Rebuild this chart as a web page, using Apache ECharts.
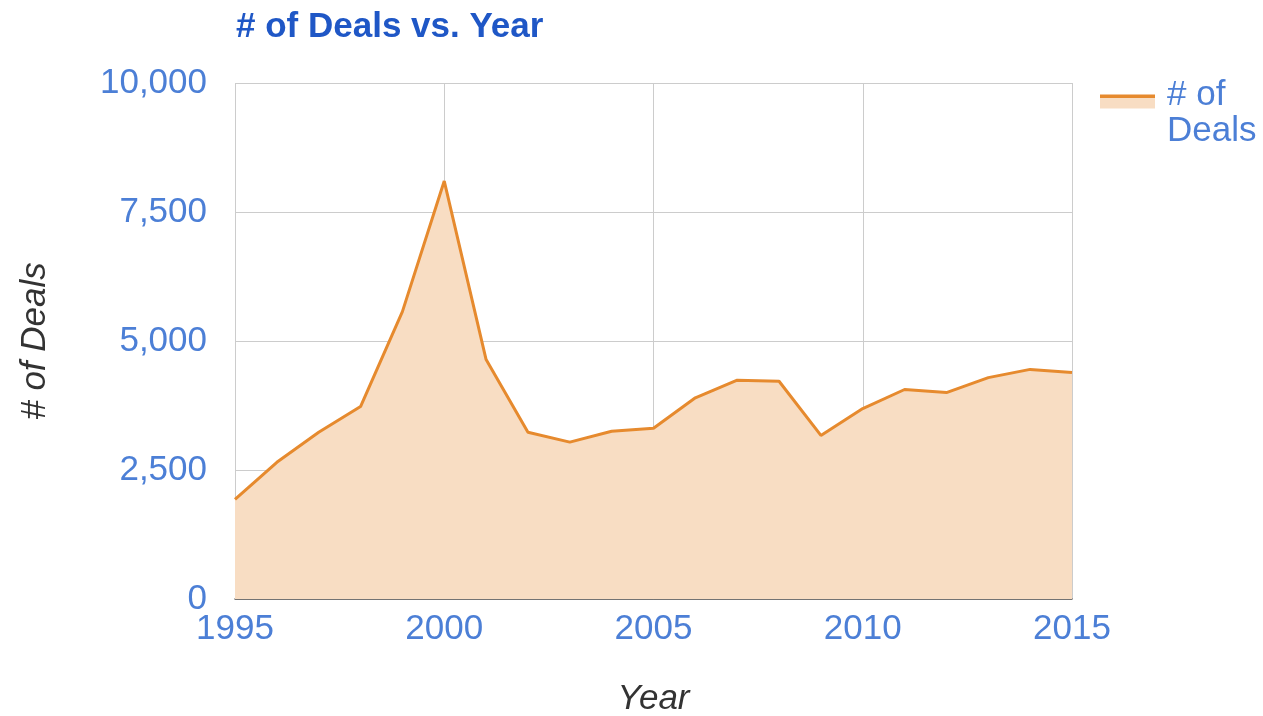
<!DOCTYPE html>
<html>
<head>
<meta charset="utf-8">
<title># of Deals vs. Year</title>
<script src="https://cdn.jsdelivr.net/npm/echarts@6/dist/echarts.min.js"></script>
<style>
  html, body { margin: 0; padding: 0; background: #ffffff; }
  #chart { width: 1263px; height: 716px; }
</style>
</head>
<body>
<div id="chart"></div>
<script>
// Number of deals per year
const years = [1995, 1996, 1997, 1998, 1999, 2000, 2001, 2002, 2003, 2004, 2005,
               2006, 2007, 2008, 2009, 2010, 2011, 2012, 2013, 2014, 2015];
const deals = [1930, 2650, 3230, 3730, 5570, 8100, 4640, 3230, 3040, 3250, 3310,
               3900, 4240, 4220, 3170, 3690, 4060, 4000, 4290, 4450, 4390];
const seriesName = '# of Deals';
const yTicks = [0, 2500, 5000, 7500, 10000];

const FONT = "'Liberation Sans', Arial, sans-serif";
const LABEL_BLUE = '#4c7fd6';
const LINE_ORANGE = '#e68a2e';
const AREA_PEACH = '#f8ddc3';

// thousands separator, e.g. 7500 -> "7,500"
function withCommas(v) {
  return String(v).replace(/\B(?=(\d{3})+(?!\d))/g, ',');
}

const chart = echarts.init(document.getElementById('chart'), null, { renderer: 'canvas' });

chart.setOption({
  animation: false,
  backgroundColor: '#ffffff',
  title: {
    text: '# of Deals vs. Year',
    left: 231,
    top: 5,
    textStyle: { fontFamily: FONT, fontSize: 35, fontWeight: 'bold', color: '#1f57c6' }
  },
  legend: {
    left: 1100,
    top: 78,
    padding: 0,
    itemWidth: 55,
    itemHeight: 14,
    data: [{
      name: seriesName,
      icon: 'rect',
      itemStyle: {
        color: {
          type: 'linear', x: 0, y: 0, x2: 0, y2: 1,
          colorStops: [
            { offset: 0, color: LINE_ORANGE },
            { offset: 0.22, color: LINE_ORANGE },
            { offset: 0.22, color: AREA_PEACH },
            { offset: 1, color: AREA_PEACH }
          ]
        }
      }
    }],
    // two-line legend label: first line sits level with the swatch
    formatter: () => '{a|# of}\n{b|Deals}',
    textStyle: {
      fontFamily: FONT, fontSize: 35, color: LABEL_BLUE,
      rich: {
        a: { fontFamily: FONT, fontSize: 35, color: LABEL_BLUE, lineHeight: 60, padding: [0, 0, 0, 7] },
        b: { fontFamily: FONT, fontSize: 35, color: LABEL_BLUE, lineHeight: 12, padding: [0, 0, 0, 7] }
      }
    }
  },
  grid: {
    left: 235, right: 191, top: 83, bottom: 117,
    containLabel: false,
    outerBoundsMode: 'none'
  },
  xAxis: {
    type: 'value',
    min: 1995, max: 2015, interval: 5,
    name: 'Year',
    nameLocation: 'middle',
    nameGap: 83,
    nameTextStyle: { fontFamily: FONT, fontSize: 35, fontStyle: 'italic', color: '#333333' },
    axisLine: { show: true, lineStyle: { color: '#555555', width: 1.5 } },
    axisTick: { show: false },
    axisLabel: {
      fontFamily: FONT, fontSize: 35, color: LABEL_BLUE, margin: 13,
      formatter: v => String(v)
    },
    splitLine: { show: true, lineStyle: { color: '#cccccc', width: 1 } }
  },
  yAxis: {
    type: 'value',
    min: yTicks[0], max: yTicks[yTicks.length - 1], interval: yTicks[1] - yTicks[0],
    name: '# of Deals',
    nameLocation: 'middle',
    nameGap: 182,
    nameTextStyle: { fontFamily: FONT, fontSize: 35, fontStyle: 'italic', color: '#333333' },
    axisLine: { show: false },
    axisTick: { show: false },
    axisLabel: {
      fontFamily: FONT, fontSize: 35, color: LABEL_BLUE, margin: 28,
      formatter: v => withCommas(v)
    },
    splitLine: { show: true, lineStyle: { color: '#cccccc', width: 1 } }
  },
  series: [{
    name: seriesName,
    type: 'line',
    data: years.map((y, i) => [y, deals[i]]),
    symbol: 'none',
    lineStyle: { color: LINE_ORANGE, width: 3 },
    itemStyle: { color: LINE_ORANGE },
    areaStyle: { color: AREA_PEACH, opacity: 1 }
  }]
});
</script>
</body>
</html>
